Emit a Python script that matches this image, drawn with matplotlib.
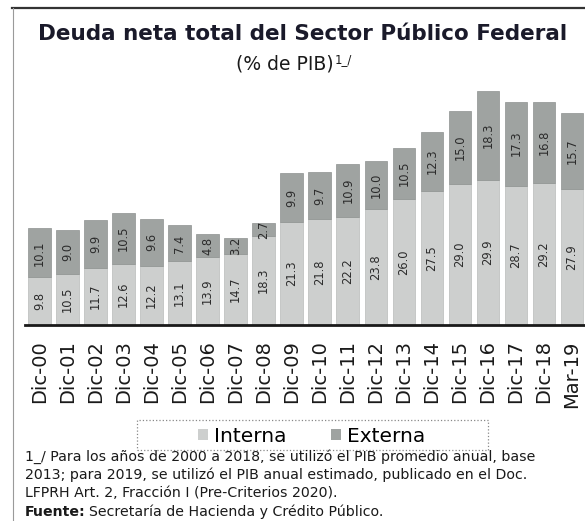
import numpy as np
import matplotlib
matplotlib.use('Agg')
import matplotlib.pyplot as plt
from matplotlib.patches import Patch, Rectangle
from matplotlib.lines import Line2D

periodos = ['Dic-00', 'Dic-01', 'Dic-02', 'Dic-03', 'Dic-04', 'Dic-05', 'Dic-06',
            'Dic-07', 'Dic-08', 'Dic-09', 'Dic-10', 'Dic-11', 'Dic-12', 'Dic-13',
            'Dic-14', 'Dic-15', 'Dic-16', 'Dic-17', 'Dic-18', 'Mar-19']
interna = [9.8, 10.5, 11.7, 12.6, 12.2, 13.1, 13.9, 14.7, 18.3, 21.3,
           21.8, 22.2, 23.8, 26.0, 27.5, 29.0, 29.9, 28.7, 29.2, 27.9]
externa = [10.1, 9.0, 9.9, 10.5, 9.6, 7.4, 4.8, 3.2, 2.7, 9.9,
           9.7, 10.9, 10.0, 10.5, 12.3, 15.0, 18.3, 17.3, 16.8, 15.7]

c_int = '#cdcfce'
c_ext = '#9fa3a1'
c_txt = '#2b2b2b'

W, H = 585, 521
fig = plt.figure(figsize=(W / 100, H / 100), dpi=100)
fig.patch.set_facecolor('white')

ax = fig.add_axes([25 / W, (H - 325) / H, (W - 25) / W, 240 / H])
x = np.arange(len(periodos))
ax.bar(x, interna, width=0.81, color=c_int, edgecolor='#b9bbba', linewidth=0.5)
ax.bar(x, externa, width=0.81, bottom=interna, color=c_ext, edgecolor='#8e9290', linewidth=0.5)

for i in range(len(x)):
    ax.text(x[i], interna[i] / 2, f'{interna[i]:.1f}', rotation=90, ha='center', va='center',
            fontsize=8.3, color=c_txt)
    ax.text(x[i], interna[i] + externa[i] / 2, f'{externa[i]:.1f}', rotation=90, ha='center',
            va='center', fontsize=8.3, color=c_txt)

ax.set_xlim(-0.517, 19.46)
ax.set_ylim(0, 49.4)
ax.set_xticks(x)
ax.set_xticklabels(periodos, rotation=90, fontsize=14, color='#1a1a1a')
ax.tick_params(axis='x', length=0, pad=11)
ax.set_yticks([])
for s in ['top', 'right', 'left']:
    ax.spines[s].set_visible(False)
ax.spines['bottom'].set_linewidth(2)
ax.spines['bottom'].set_color('#1a1a1a')

# marco
fig.add_artist(Line2D([12 / W, 1], [1 - 8 / H, 1 - 8 / H], color='#333333', linewidth=1.6))
fig.add_artist(Line2D([12.5 / W, 12.5 / W], [0, 1 - 8 / H], color='#9a9a9a', linewidth=0.8))

# titulos
fig.text(303 / W, 1 - 34 / H, 'Deuda neta total del Sector Público Federal', ha='center',
         va='center', fontsize=15.5, fontweight='bold', color='#1a1a2a')
sub = fig.text(285 / W, 1 - 64 / H, '(% de PIB)', ha='center', va='center', fontsize=13.5,
               color='#1a1a1a')
fig.canvas.draw()
r = fig.canvas.get_renderer()
bb = sub.get_window_extent(r)
fig.text(bb.x1 / W + 1 / W, 1 - 60 / H, '1_/', ha='left', va='center', fontsize=8.5, color='#1a1a1a')

# leyenda
fig.add_artist(Rectangle((137 / W, 1 - 450 / H), (488 - 137) / W, 30 / H, transform=fig.transFigure,
                         fill=False, edgecolor='#888888', linestyle=':', linewidth=0.9))
handles = [Patch(facecolor=c_int, edgecolor='none', label='Interna'),
           Patch(facecolor=c_ext, edgecolor='none', label='Externa')]
fig.legend(handles=handles, loc='center', bbox_to_anchor=(312 / W, 1 - 436 / H), ncol=2,
           frameon=False, fontsize=14.5, handlelength=0.5, handleheight=0.5, handletextpad=0.3,
           columnspacing=2.2)

# notas
fs = 10.2
fig.text(25 / W, 1 - 457 / H, '1_/ Para los años de 2000 a 2018, se utilizó el PIB promedio anual, base',
         va='center', fontsize=fs, color='#1a1a1a')
fig.text(25 / W, 1 - 475 / H, '2013; para 2019, se utilizó el PIB anual estimado, publicado en el Doc.',
         va='center', fontsize=fs, color='#1a1a1a')
fig.text(25 / W, 1 - 493 / H, 'LFPRH Art. 2, Fracción I (Pre-Criterios 2020).',
         va='center', fontsize=fs, color='#1a1a1a')
f1 = fig.text(25 / W, 1 - 512 / H, 'Fuente:', va='center', fontsize=fs, fontweight='bold',
              color='#1a1a1a')
fig.canvas.draw()
bb = f1.get_window_extent(fig.canvas.get_renderer())
fig.text(bb.x1 / W + 3 / W, 1 - 512 / H, 'Secretaría de Hacienda y Crédito Público.',
         va='center', fontsize=fs, color='#1a1a1a')

fig.savefig('out.png', dpi=100)
